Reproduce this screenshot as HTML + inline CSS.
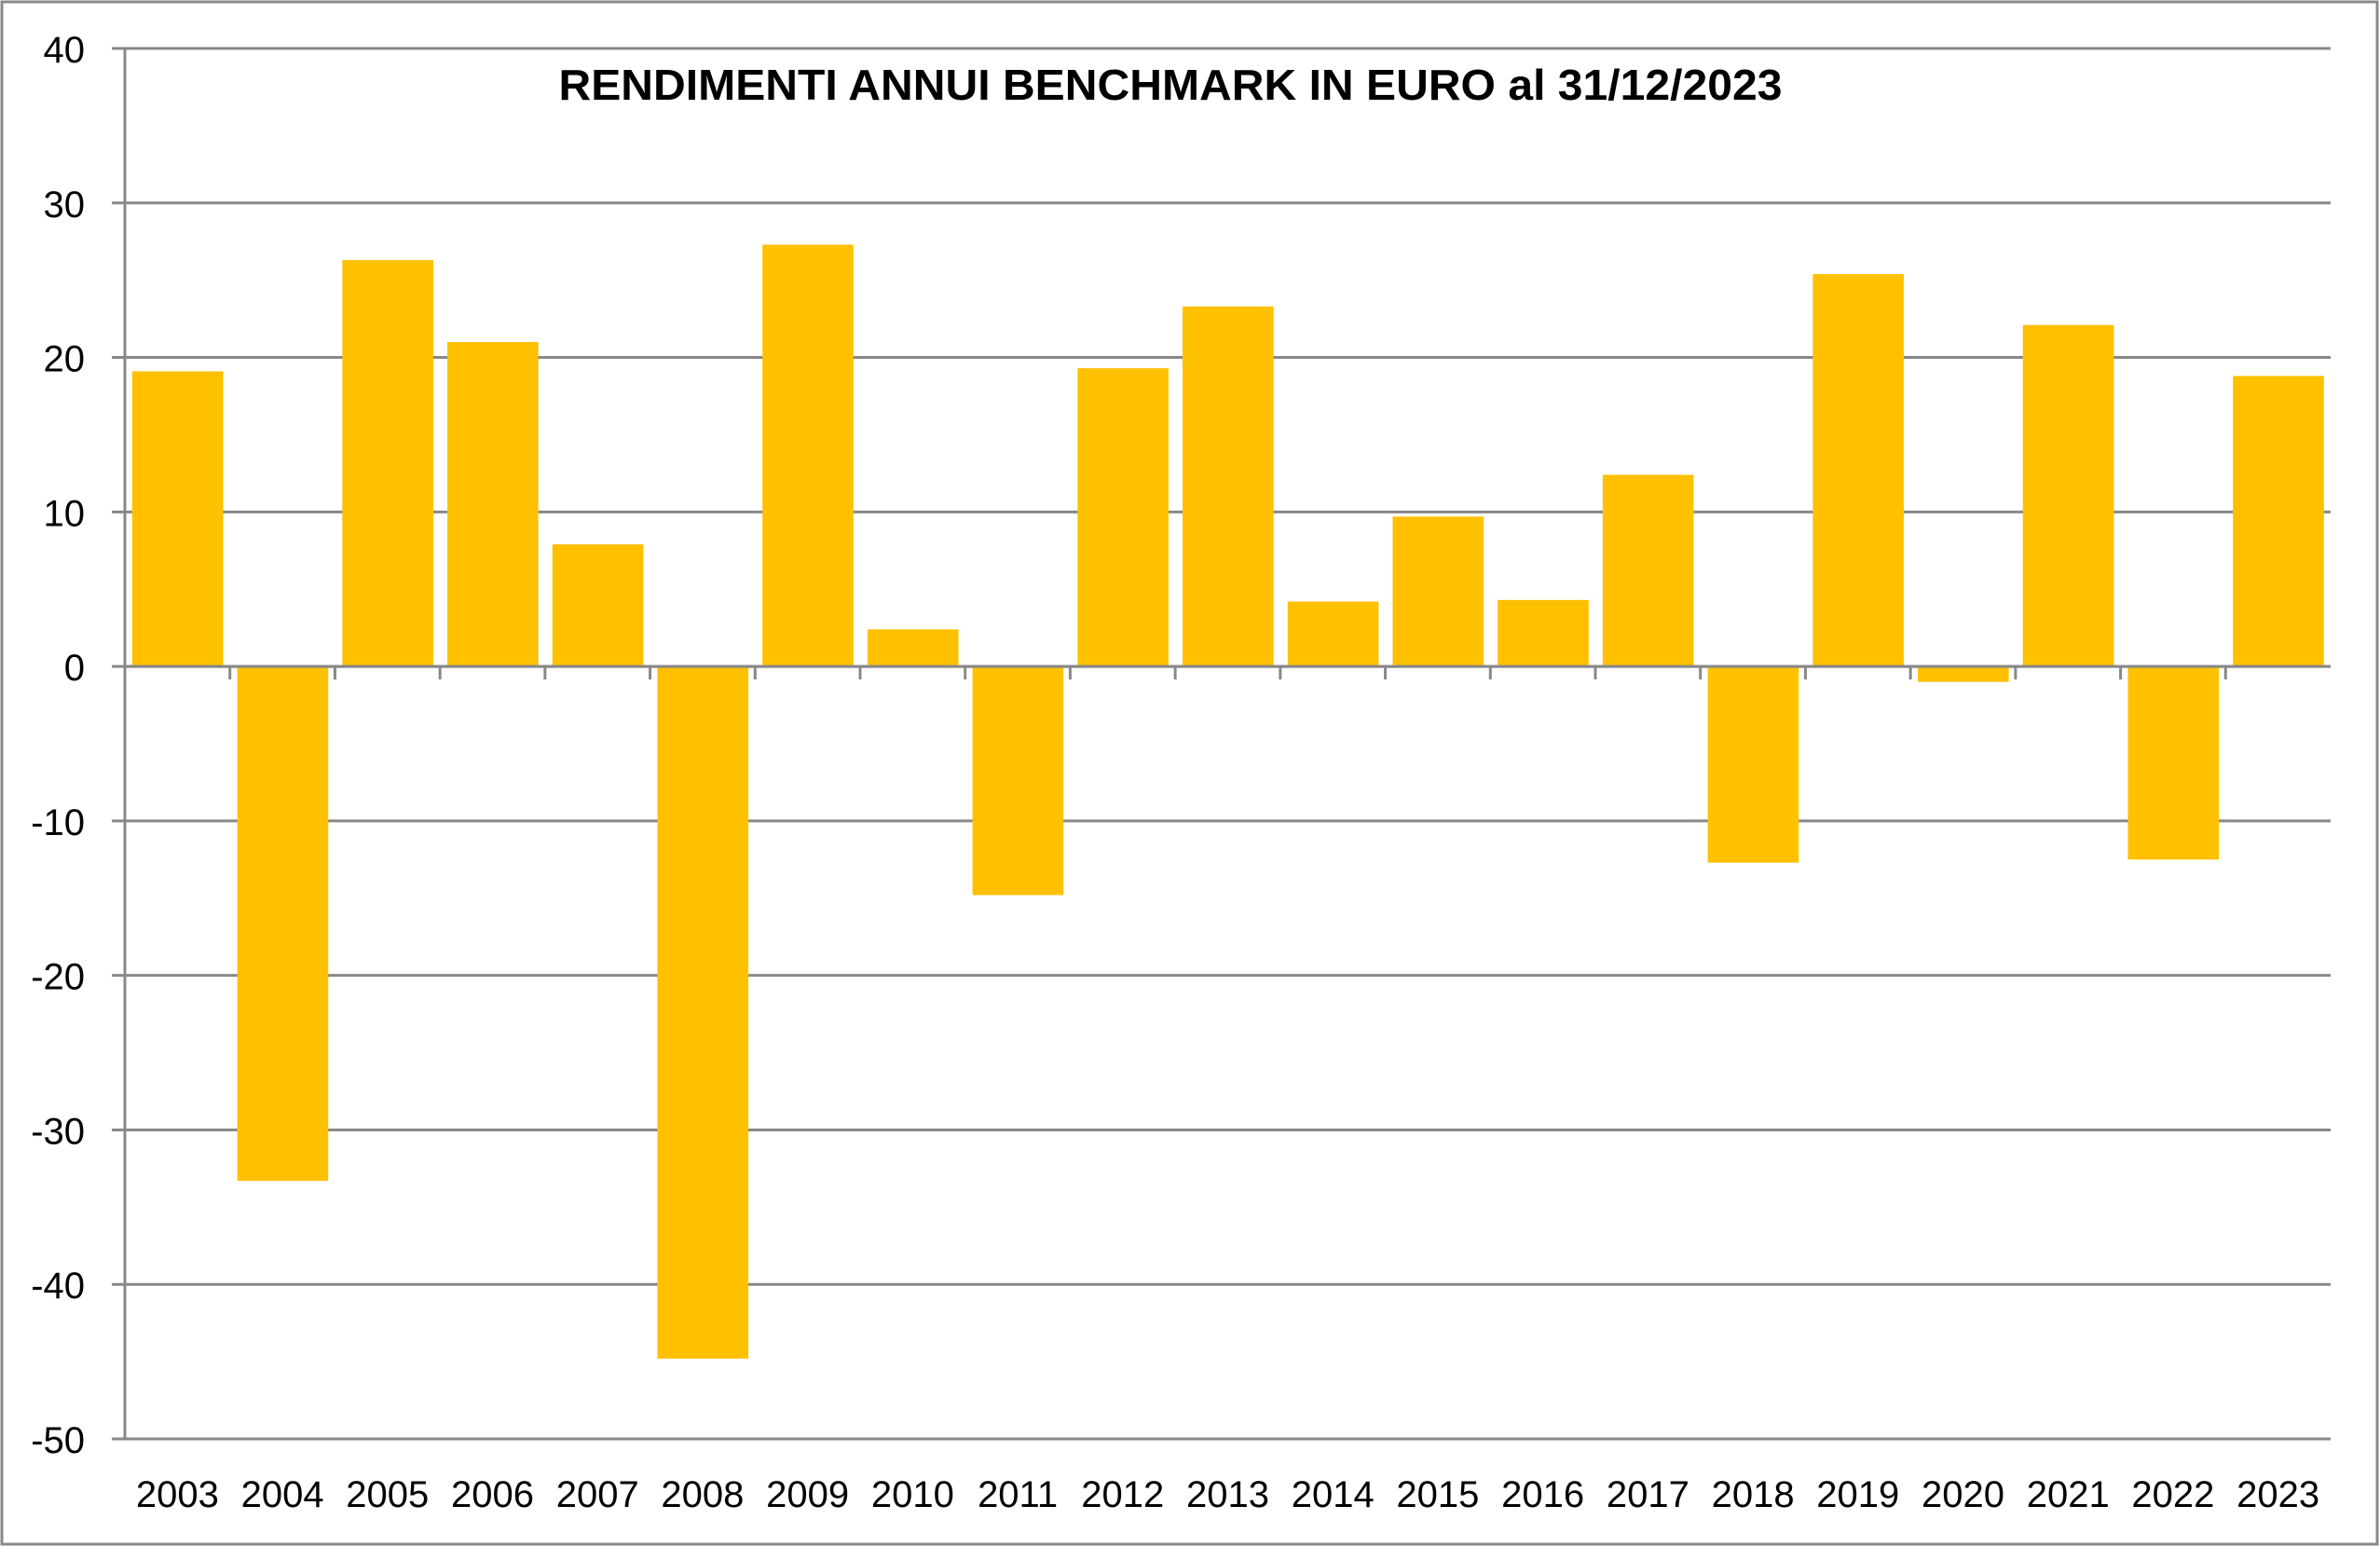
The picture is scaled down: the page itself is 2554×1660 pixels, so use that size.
<!DOCTYPE html>
<html><head><meta charset="utf-8"><style>
html,body{margin:0;padding:0;background:#fff;}
svg{display:block;}
</style></head><body>
<svg id="chart" width="2554" height="1660" xmlns="http://www.w3.org/2000/svg" font-family="'Liberation Sans', sans-serif">
<rect x="2" y="2" width="2549" height="1655" fill="#fff" stroke="#888" stroke-width="3"/>
<text x="1256" y="107" text-anchor="middle" font-size="46" font-weight="bold" textLength="1313" lengthAdjust="spacingAndGlyphs">RENDIMENTI ANNUI BENCHMARK IN EURO al 31/12/2023</text>
<g id="grid"></g><g id="bars"></g><g id="axes"></g>
</svg>
<script>
const categories=["2003","2004","2005","2006","2007","2008","2009","2010","2011","2012","2013","2014","2015","2016","2017","2018","2019","2020","2021","2022","2023"];
const values=[19.1,-33.3,26.3,21.0,7.9,-44.8,27.3,2.4,-14.8,19.3,23.3,4.2,9.7,4.3,12.4,-12.7,25.4,-1.0,22.1,-12.5,18.8];
const yTicks=[40,30,20,10,0,-10,-20,-30,-40,-50];
const yTickLabels=["40","30","20","10","0","-10","-20","-30","-40","-50"];
const NS="http://www.w3.org/2000/svg";
const X0=134,X1=2501,Y40=52,Ym50=1544;
const y=v=>Y40+(40-v)*(Ym50-Y40)/90;
const bw=(X1-X0)/categories.length;
const x=i=>X0+i*bw;
function mk(tag,attrs,parent){const e=document.createElementNS(NS,tag);for(const k in attrs)e.setAttribute(k,attrs[k]);parent.appendChild(e);return e;}
const grid=document.getElementById('grid'),bars=document.getElementById('bars'),axes=document.getElementById('axes');
yTicks.forEach((t,i)=>{
  const l=mk('line',{x1:120,x2:X1,y1:y(t),y2:y(t),stroke:'#888','stroke-width':3},grid);
  
  
  const tx=mk('text',{x:91,y:y(t)+15,'text-anchor':'end','font-size':40},axes);
  tx.textContent=yTickLabels[i];
  
  
});
values.forEach((v,i)=>{
  const top=Math.min(y(v),y(0)),h=Math.abs(y(v)-y(0));
  const r=mk('rect',{x:x(i)+bw*0.07,y:top,width:bw*0.866,height:h,fill:'#FFC000'},bars);
  
  
  const tx=mk('text',{x:x(i)+bw/2,y:1617,'text-anchor':'middle','font-size':40},axes);
  tx.textContent=categories[i];
  
  
  if(i>0){const tk=mk('line',{x1:x(i),x2:x(i),y1:y(0),y2:y(0)+14,stroke:'#888','stroke-width':3},axes);
  
  }
});
const za=mk('line',{x1:X0,x2:X1,y1:y(0),y2:y(0),stroke:'#888','stroke-width':3},axes);


const ya=mk('line',{x1:X0,x2:X0,y1:Y40,y2:Ym50,stroke:'#888','stroke-width':3},axes);


</script>
</body></html>
